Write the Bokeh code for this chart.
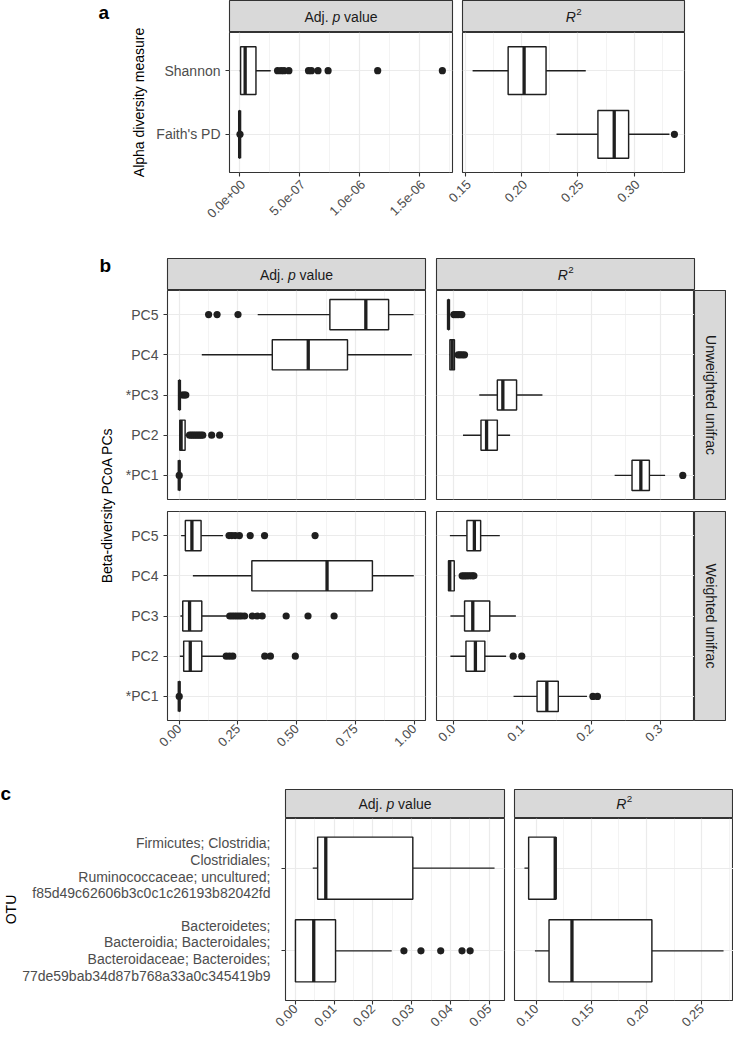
import math
from bokeh.plotting import figure
from bokeh.layouts import row, column
from bokeh.models import Range1d, FixedTicker
from bokeh.core.properties import value
from bokeh.embed import file_html
from bokeh.resources import INLINE

# ---------------- data (categories listed bottom -> top) ----------------
# panel a : alpha diversity
alpha_measures = ["Faith's PD", "Shannon"]
a_p_stats = [[0.0, 0.0, 0.0, 1e-9, 2e-9],
             [1e-9, 8e-9, 4.6e-8, 1.36e-7, 2.59e-7]]          # whislo, q1, median, q3, whishi
a_p_out = [[3e-9],
           [3.16e-7, 3.45e-7, 3.7e-7, 4.1e-7, 5.74e-7, 5.98e-7, 6.53e-7, 7.37e-7, 1.15e-6, 1.689e-6]]
a_r2_stats = [[0.231, 0.2678, 0.2823, 0.2951, 0.3314],
              [0.1564, 0.188, 0.2022, 0.2217, 0.257]]
a_r2_out = [[0.3358], []]
a_p_ticks = [0.0, 5e-7, 1e-6, 1.5e-6]
a_p_labels = ["0.0e+00", "5.0e-07", "1.0e-06", "1.5e-06"]
a_r2_ticks = [0.15, 0.20, 0.25, 0.30]
a_r2_labels = ["0.15", "0.20", "0.25", "0.30"]

# panel b : beta-diversity PCoA PCs
pcs_unweighted = ["*PC1", "PC2", "*PC3", "PC4", "PC5"]
pcs_weighted = ["*PC1", "PC2", "PC3", "PC4", "PC5"]
bu_p_stats = [[0.0, 0.0, 0.0, 0.0005, 0.001],
              [0.0, 0.0025, 0.008, 0.025, 0.04],
              [0.0, 0.0, 0.001, 0.003, 0.008],
              [0.096, 0.396, 0.549, 0.716, 0.990],
              [0.334, 0.641, 0.794, 0.891, 0.997]]
bu_p_out = [[0.0],
            [0.044, 0.052, 0.060, 0.068, 0.076, 0.084, 0.092, 0.100, 0.138, 0.172],
            [0.012, 0.018, 0.024, 0.028],
            [],
            [0.125, 0.161, 0.25]]
bu_r2_stats = [[0.2341, 0.2593, 0.2721, 0.2845, 0.3073],
               [0.0142, 0.0403, 0.0484, 0.0640, 0.0825],
               [0.0378, 0.0640, 0.0720, 0.0919, 0.1294],
               [-0.0055, -0.0048, -0.0015, 0.0018, 0.004],
               [-0.0072, -0.0071, -0.0068, -0.0062, -0.004]]
bu_r2_out = [[0.3329], [], [], [0.0073, 0.010, 0.013, 0.0164], [0.001, 0.004, 0.007, 0.010, 0.0125]]
bw_p_stats = [[0.0, 0.0, 0.0, 0.0005, 0.001],
              [0.0025, 0.019, 0.047, 0.096, 0.193],
              [0.005, 0.015, 0.044, 0.096, 0.207],
              [0.058, 0.309, 0.629, 0.822, 0.998],
              [0.008, 0.026, 0.054, 0.093, 0.186]]
bw_p_out = [[0.0],
            [0.200, 0.214, 0.228, 0.364, 0.388, 0.494],
            [0.215, 0.225, 0.235, 0.245, 0.255, 0.265, 0.278, 0.311, 0.332, 0.353, 0.455, 0.548, 0.659],
            [],
            [0.212, 0.224, 0.238, 0.256, 0.302, 0.363, 0.578]]
bw_r2_stats = [[0.0875, 0.1216, 0.1358, 0.1524, 0.194],
               [-0.004, 0.0185, 0.0322, 0.0459, 0.0767],
               [-0.004, 0.0165, 0.0284, 0.053, 0.0909],
               [-0.0072, -0.0068, -0.005, 0.0015, 0.003],
               [-0.0048, 0.0199, 0.0307, 0.0398, 0.0676]]
bw_r2_out = [[0.2026, 0.2092], [0.087, 0.0994], [], [0.013, 0.016, 0.019, 0.022, 0.025, 0.028, 0.030], []]
b_p_ticks = [0.0, 0.25, 0.5, 0.75, 1.0]
b_p_labels = ["0.00", "0.25", "0.50", "0.75", "1.00"]
b_r2_ticks = [0.0, 0.1, 0.2, 0.3]
b_r2_labels = ["0.0", "0.1", "0.2", "0.3"]

# panel c : OTUs
otus = ["Bacteroidetes;\nBacteroidia; Bacteroidales;\nBacteroidaceae; Bacteroides;\n77de59bab34d87b768a33a0c345419b9",
        "Firmicutes; Clostridia;\nClostridiales;\nRuminococcaceae; uncultured;\nf85d49c62606b3c0c1c26193b82042fd"]
c_p_stats = [[0.0, 0.0, 0.00472, 0.01035, 0.02485],
             [0.00447, 0.00573, 0.00783, 0.0303, 0.0514]]
c_p_out = [[0.0280, 0.0324, 0.0375, 0.0430, 0.0451], []]
c_r2_stats = [[0.0988, 0.1116, 0.1324, 0.2049, 0.2699],
              [0.0893, 0.0931, 0.1172, 0.1178, 0.1178]]
c_r2_out = [[], []]
c_p_ticks = [0.0, 0.01, 0.02, 0.03, 0.04, 0.05]
c_p_labels = ["0.00", "0.01", "0.02", "0.03", "0.04", "0.05"]
c_r2_ticks = [0.10, 0.15, 0.20, 0.25]
c_r2_labels = ["0.10", "0.15", "0.20", "0.25"]

# ---------------- styling / geometry ----------------
SX, OX = 0.982, 2.0
SY, OY = 0.99, 6.0
W, H = 733, 1036
FONT = "Liberation Sans"
INK = "#1f1f1f"
BORDER = "#333333"
GRID = "#EBEBEB"
STRIP = "#D9D9D9"
STRIPTXT = "#1A1A1A"
TICKTXT = "#4D4D4D"
XLAB = "13px"
LW = 1.45


def X(r):
    return max(0, min(W, int(round((r - OX) * SX))))


def Y(r):
    return max(0, min(H, int(round((r - OY) * SY))))


def base_fig(L, R, T, B, fl, fr, ft, fb, xr, yr, **kw):
    p = figure(width=R - L, height=B - T, x_range=xr, y_range=yr,
               min_border_left=fl - L, min_border_right=R - fr,
               min_border_top=ft - T, min_border_bottom=B - fb,
               output_backend="svg", toolbar_location=None, **kw)
    p.background_fill_color = "white"
    p.border_fill_color = "white"
    return p


def plain_fig(L, R, T, B, yr=None):
    """figure whose frame is the whole canvas: x in pixels, y in pixels from top (or yr)"""
    p = base_fig(L, R, T, B, L, R, T, B, Range1d(0, R - L),
                 yr if yr is not None else Range1d(B - T, 0),
                 x_axis_type=None, y_axis_type=None)
    p.outline_line_color = None
    return p


def xrange_for(stat_lists, out_lists):
    vals = []
    for st in stat_lists:
        for s in st:
            vals += s
    for ol in out_lists:
        for o in ol:
            vals += o
    lo, hi = min(vals), max(vals)
    span = hi - lo
    return lo - 0.05 * span, hi + 0.05 * span


def panel(box, stats, outs, cats, xr, ticks, labels, show_x, show_y,
          show_ylabels=True, show_xlabels=True):
    L, R, T, B, fl, fr, ft, fb = box
    n = len(cats)
    p = base_fig(L, R, T, B, fl, fr, ft, fb, Range1d(*xr), Range1d(0.4, n + 0.6))
    step = ticks[1] - ticks[0]
    minor = [t + step / 2 for t in [ticks[0] - step] + ticks if xr[0] <= t + step / 2 <= xr[1]]
    xt = FixedTicker(ticks=ticks, minor_ticks=minor)
    yt = FixedTicker(ticks=list(range(1, n + 1)))
    p.xaxis.ticker = xt
    p.yaxis.ticker = yt
    p.xgrid.ticker = xt
    p.ygrid.ticker = yt
    p.xgrid.grid_line_color = GRID
    p.xgrid.grid_line_width = 1.2
    p.xgrid.minor_grid_line_color = GRID
    p.xgrid.minor_grid_line_width = 0.6
    p.ygrid.grid_line_color = GRID
    p.ygrid.grid_line_width = 1.2
    p.outline_line_color = BORDER
    p.outline_line_width = 1.1
    p.outline_line_alpha = 1.0
    for ax in (p.xaxis[0], p.yaxis[0]):
        ax.axis_line_color = None
        ax.major_tick_line_color = BORDER
        ax.major_tick_line_width = 1.1
        ax.major_tick_out = 4
        ax.major_tick_in = 0
        ax.minor_tick_line_color = None
        ax.major_label_text_font = FONT
        ax.major_label_text_color = TICKTXT
    xa = p.xaxis[0]
    if show_xlabels:
        xa.major_label_overrides = {t: l for t, l in zip(ticks, labels)}
        xa.major_label_orientation = math.pi / 4
        xa.major_label_text_font_size = XLAB
        xa.major_label_standoff = 2
    else:
        xa.major_label_overrides = {t: "" for t in ticks}
        xa.major_label_text_font_size = "0px"
        xa.major_label_standoff = 0
    ya = p.yaxis[0]
    if show_ylabels:
        ya.major_label_overrides = {i + 1: c for i, c in enumerate(cats)}
        ya.major_label_text_font_size = "14px"
        ya.major_label_standoff = 5
    else:
        ya.major_label_overrides = {i + 1: "" for i in range(n)}
        ya.major_label_text_font_size = "0px"
        ya.major_label_standoff = 0
    xa.visible = show_x
    ya.visible = show_y

    ys = list(range(1, n + 1))
    wl = [s[0] for s in stats]
    q1 = [s[1] for s in stats]
    md = [s[2] for s in stats]
    q3 = [s[3] for s in stats]
    wh = [s[4] for s in stats]
    p.segment(x0=wl, y0=ys, x1=q1, y1=ys, line_color=INK, line_width=LW)
    p.segment(x0=q3, y0=ys, x1=wh, y1=ys, line_color=INK, line_width=LW)
    p.hbar(y=ys, left=q1, right=q3, height=0.75, fill_color="white",
           line_color=INK, line_width=LW)
    p.rect(x=md, y=ys, width=3.3, width_units="screen", height=0.75,
           fill_color=INK, line_color=None)
    ox, oy = [], []
    for i, o in enumerate(outs):
        ox += o
        oy += [i + 1] * len(o)
    if ox:
        p.scatter(x=ox, y=oy, size=7.2, fill_color=INK, line_color=None)
    return p


def strip_fig(box, kind, vertical_text=None):
    L, R, T, B, fl, fr, ft, fb = box
    p = base_fig(L, R, T, B, fl, fr, ft, fb, Range1d(0, 1), Range1d(0, 1),
                 x_axis_type=None, y_axis_type=None)
    p.background_fill_color = STRIP
    p.outline_line_color = BORDER
    p.outline_line_width = 1.1
    p.outline_line_alpha = 1.0
    f = 14.0
    h = fb - ft
    common = dict(text_font=value(FONT), text_color=STRIPTXT, text_baseline="middle")
    if kind == "p":
        start = -5.225 * f / 2
        p.text(x=[0.5], y=[0.5], text=["Adj."], text_font_size=f"{f}px", text_align="left",
               x_offset=start, **common)
        p.text(x=[0.5], y=[0.5], text=["p"], text_font_size=f"{f}px", text_align="left",
               text_font_style="italic", x_offset=start + 2.001 * f, **common)
        p.text(x=[0.5], y=[0.5], text=["value"], text_font_size=f"{f}px", text_align="left",
               x_offset=start + 2.835 * f, **common)
    elif kind == "r2":
        start = -1.111 * f / 2
        p.text(x=[0.5], y=[0.5], text=["R"], text_font_size=f"{f}px", text_align="left",
               text_font_style="italic", x_offset=start, **common)
        p.text(x=[0.5], y=[0.5 + 0.33 * f / h], text=["2"], text_font_size=f"{0.7 * f:.1f}px",
               text_align="left", x_offset=start + 0.76 * f, **common)
    elif kind == "v":
        p.text(x=[0.5], y=[0.5], text=[vertical_text], text_font_size=f"{f}px",
               text_align="center", angle=-math.pi / 2, **common)
    return p


def letter(p, txt, px, py):
    p.text(x=[px], y=[py], text=[txt], text_font=value(FONT), text_font_style="bold",
           text_font_size="19px", text_align="left", text_baseline="alphabetic", text_color="black")


def vtitle(p, txt, px, py):
    p.text(x=[px], y=[py], text=[txt], text_font=value(FONT), text_font_size="14px",
           text_color="black", text_align="center", text_baseline="middle", angle=math.pi / 2)


# ---------------- section a ----------------
A_T, A_B = 0, Y(257)
a_left = X(153)
a_mid = X(467)
a_fb = Y(180)
a_tb = a_fb + 5          # bottom of the panel figures (tick marks only)
a_p_xr = xrange_for([a_p_stats], [a_p_out])
a_r2_xr = xrange_for([a_r2_stats], [a_r2_out])
aL = plain_fig(0, a_left, A_T, A_B)
letter(aL, "a", X(101.7), max(Y(12.5), 12))
vtitle(aL, "Alpha diversity measure", X(142.3), (Y(38) + a_fb) / 2)
sAL = strip_fig((a_left, a_mid, A_T, Y(38), X(235), X(462), Y(6), Y(38)), "p")
sAR = strip_fig((a_mid, W, A_T, Y(38), X(472), X(699), Y(6), Y(38)), "r2")
pAL = panel((a_left, a_mid, Y(38), a_tb, X(235), X(462), Y(38), a_fb),
            a_p_stats, a_p_out, alpha_measures, a_p_xr, a_p_ticks, a_p_labels, True, True,
            show_xlabels=False)
pAR = panel((a_mid, W, Y(38), a_tb, X(472), X(699), Y(38), a_fb),
            a_r2_stats, a_r2_out, alpha_measures, a_r2_xr, a_r2_ticks, a_r2_labels, True, False,
            show_xlabels=False)
# x tick labels of both panels of section a, drawn through each panel's own x scale
aT = plain_fig(a_left, W, a_tb, A_B, yr=Range1d(0, A_B - a_tb))
for name, (fl, fr), xr, ticks, labels in (("ap", (X(235), X(462)), a_p_xr, a_p_ticks, a_p_labels),
                                          ("ar2", (X(472), X(699)), a_r2_xr, a_r2_ticks, a_r2_labels)):
    k = (xr[1] - xr[0]) / (fr - fl)
    aT.extra_x_ranges[name] = Range1d(xr[0] - (fl - a_left) * k, xr[1] + (W - fr) * k)
    aT.text(x=ticks, y=[A_B - a_tb - 1.5] * len(ticks), text=labels, x_range_name=name,
            text_font=value(FONT), text_font_size=XLAB, text_color=TICKTXT,
            text_align="right", text_baseline="top", angle=math.pi / 4)
secA = row(aL, column(row(column(sAL, pAL), column(sAR, pAR)), aT))

# ---------------- section b ----------------
B_T, B_B = A_B, Y(790)
b_left = X(120)
b_mid = X(440.3)
b_right = X(741)
b_p_xr = xrange_for([bu_p_stats, bw_p_stats], [bu_p_out, bw_p_out])
b_r2_xr = xrange_for([bu_r2_stats, bw_r2_stats], [bu_r2_out, bw_r2_out])
bL = plain_fig(0, b_left, B_T, B_B)
letter(bL, "b", X(103.3), Y(273.3) - B_T)
vtitle(bL, "Beta-diversity PCoA PCs", X(110), (Y(299) + Y(733.7)) / 2 - B_T)
sBL = strip_fig((b_left, b_mid, B_T, Y(299), X(172.3), X(435), Y(266.7), Y(299)), "p")
sBR = strip_fig((b_mid, b_right, B_T, Y(299), X(445.7), X(708.7), Y(266.7), Y(299)), "r2")
up = (Y(299), Y(516), Y(299), Y(510.3))
lo = (Y(516), B_B, Y(521.7), Y(733.7))
pUL = panel((b_left, b_mid, up[0], up[1], X(172.3), X(435), up[2], up[3]),
            bu_p_stats, bu_p_out, pcs_unweighted, b_p_xr, b_p_ticks, b_p_labels, False, True)
pUR = panel((b_mid, X(708.7), up[0], up[1], X(445.7), X(708.7), up[2], up[3]),
            bu_r2_stats, bu_r2_out, pcs_unweighted, b_r2_xr, b_r2_ticks, b_r2_labels, False, False)
sUR = strip_fig((X(708.7), b_right, up[0], up[1], X(708.7), b_right, up[2], up[3]), "v",
                vertical_text="Unweighted unifrac")
pLL = panel((b_left, b_mid, lo[0], lo[1], X(172.3), X(435), lo[2], lo[3]),
            bw_p_stats, bw_p_out, pcs_weighted, b_p_xr, b_p_ticks, b_p_labels, True, True)
pLR = panel((b_mid, X(708.7), lo[0], lo[1], X(445.7), X(708.7), lo[2], lo[3]),
            bw_r2_stats, bw_r2_out, pcs_weighted, b_r2_xr, b_r2_ticks, b_r2_labels, True, False)
sLR = strip_fig((X(708.7), b_right, lo[0], lo[1], X(708.7), b_right, lo[2], lo[3]), "v",
                vertical_text="Weighted unifrac")
secB = row(bL, column(row(sBL, sBR), row(pUL, pUR, sUR), row(pLL, pLR, sLR)))

# ---------------- section c ----------------
C_T, C_B = B_B, H
c_left = X(278)
c_mid = X(520.7)
c_ft, c_fb = Y(832.3), Y(1016)
c_p_xr = xrange_for([c_p_stats], [c_p_out])
c_r2_xr = xrange_for([c_r2_stats], [c_r2_out])
ppu = (c_fb - c_ft) / 2.2          # pixels per category unit in panel c
cy0 = 0.4 - (C_B - c_fb) / ppu
cy1 = 2.6 + (c_ft - C_T) / ppu
cL = plain_fig(0, c_left, C_T, C_B, yr=Range1d(cy0, cy1))


def cy(abs_px):
    return 0.4 + (c_fb - abs_px) / ppu


letter(cL, "c", X(2.5), cy(Y(806.7)))
vtitle(cL, "OTU", X(12.5), 1.5)
line_step = 17.0 * SY / ppu
for i, lab in enumerate(otus):
    lines = lab.split("\n")
    k = len(lines)
    for j, ln in enumerate(lines):
        cL.text(x=[c_left - 1], y=[i + 1 + ((k - 1) / 2 - j) * line_step], text=[ln],
                text_font=value(FONT), text_font_size="14px", text_color=TICKTXT,
                text_align="right", text_baseline="middle")
sCL = strip_fig((c_left, c_mid, C_T, c_ft, X(292.3), X(515.7), Y(802.7), c_ft), "p")
sCR = strip_fig((c_mid, W, C_T, c_ft, X(525.7), W, Y(802.7), c_ft), "r2")
pCL = panel((c_left, c_mid, c_ft, C_B, X(292.3), X(515.7), c_ft, c_fb),
            c_p_stats, c_p_out, otus, c_p_xr, c_p_ticks, c_p_labels, True, True, show_ylabels=False)
pCR = panel((c_mid, W, c_ft, C_B, X(525.7), W, c_ft, c_fb),
            c_r2_stats, c_r2_out, otus, c_r2_xr, c_r2_ticks, c_r2_labels, True, False)
secC = row(cL, column(row(sCL, sCR), row(pCL, pCR)))

layout = column(secA, secB, secC)
open("out.html", "w").write(file_html(layout, INLINE))
